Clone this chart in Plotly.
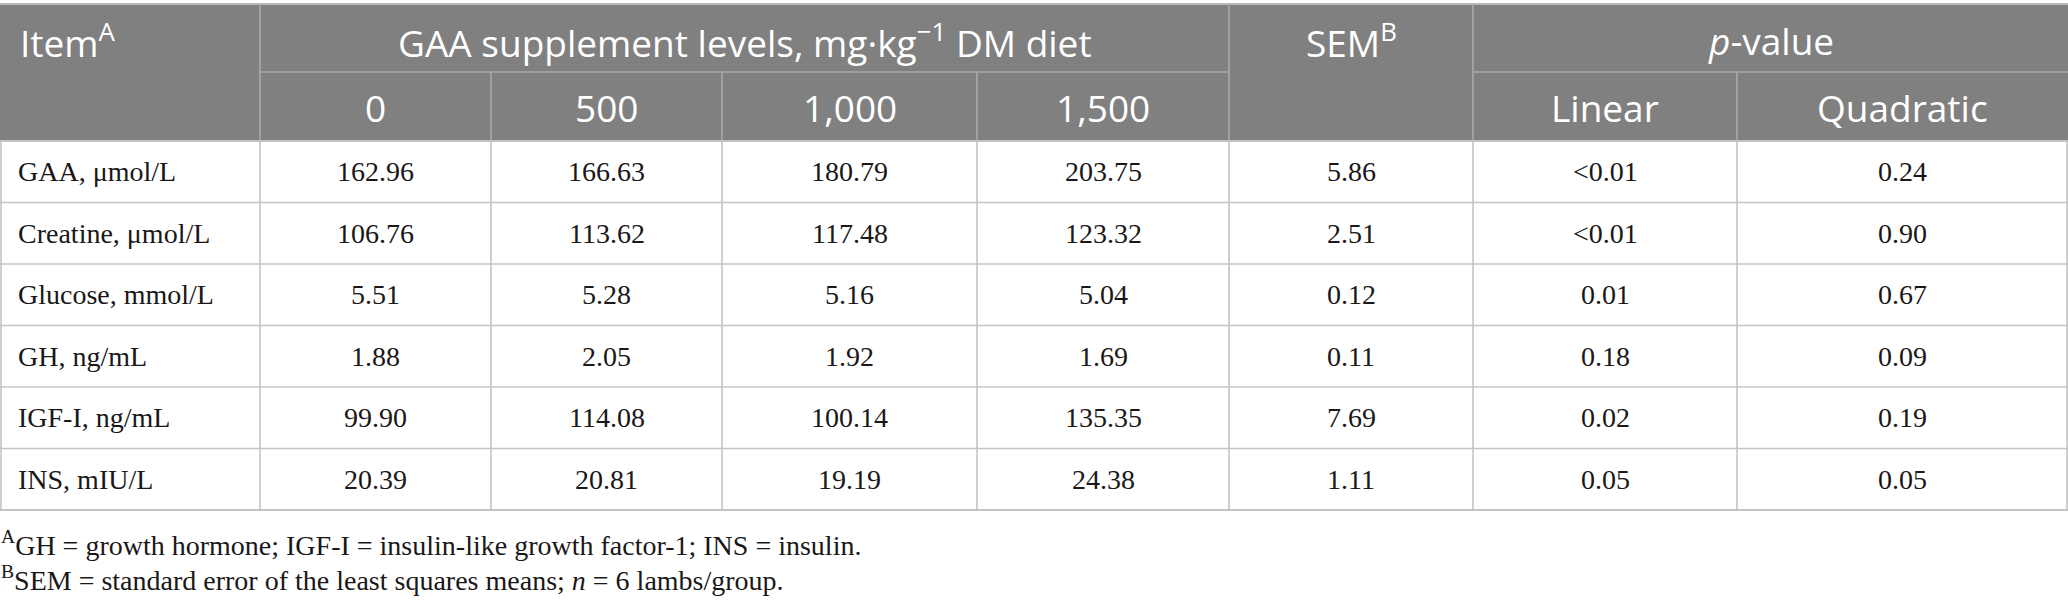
import plotly.graph_objects as go

# ---------------- data ----------------
items = ["GAA, μmol/L", "Creatine, μmol/L", "Glucose, mmol/L",
         "GH, ng/mL", "IGF-I, ng/mL", "INS, mIU/L"]
level_labels = ["0", "500", "1,000", "1,500"]
level_0 = [162.96, 106.76, 5.51, 1.88, 99.90, 20.39]
level_500 = [166.63, 113.62, 5.28, 2.05, 114.08, 20.81]
level_1000 = [180.79, 117.48, 5.16, 1.92, 100.14, 19.19]
level_1500 = [203.75, 123.32, 5.04, 1.69, 135.35, 24.38]
sem = [5.86, 2.51, 0.12, 0.11, 7.69, 1.11]
p_linear = ["<0.01", "<0.01", 0.01, 0.18, 0.02, 0.05]
p_quadratic = [0.24, 0.90, 0.67, 0.09, 0.19, 0.05]
p_labels = ["Linear", "Quadratic"]
footnotes = [
    "<sup>A</sup>GH = growth hormone; IGF-I = insulin-like growth factor-1; INS = insulin.",
    "<sup>B</sup>SEM = standard error of the least squares means; <i>n</i> = 6 lambs/group.",
]

# ---------------- layout constants ----------------
W, H = 2068, 600
X_EDGES = [0, 260, 491, 722, 977, 1229, 1473, 1737, 2068]
Y_TOP, Y_H1, Y_H2 = 4, 72, 141
ROW_H = (510 - 141) / 6
Y_ROWS = [Y_H2 + i * ROW_H for i in range(7)]
HEADER_FILL = "#808080"
HEADER_LINE = "#a9a9a9"
BODY_LINE = "#c4c4c4"
TEXT = "#1a1718"
SANS = "Open Sans"
SERIF = "Liberation Serif"
HFS = 37
BFS = 28


def fmt(v):
    return v if isinstance(v, str) else f"{v:.2f}"


def cx(i):
    return (X_EDGES[i] + X_EDGES[i + 1]) / 2


shapes = []
annotations = []


def line(x0, y0, x1, y1, color, width=1.6):
    shapes.append(dict(type="line", xref="x", yref="y", x0=x0, y0=y0, x1=x1, y1=y1,
                       line=dict(color=color, width=width), layer="above"))


# header background
shapes.append(dict(type="rect", xref="x", yref="y", x0=0, x1=W, y0=Y_TOP, y1=Y_H2,
                   fillcolor=HEADER_FILL, line=dict(width=0), layer="below"))
line(0, Y_TOP, W, Y_TOP, "#b8b8b8", 2)
# header dividers
line(X_EDGES[1], Y_H1, X_EDGES[5], Y_H1, HEADER_LINE)
line(X_EDGES[6], Y_H1, W, Y_H1, HEADER_LINE)
for i in (1, 5, 6):
    line(X_EDGES[i], Y_TOP, X_EDGES[i], Y_H2, HEADER_LINE)
for i in (2, 3, 4, 7):
    line(X_EDGES[i], Y_H1, X_EDGES[i], Y_H2, HEADER_LINE)

# body grid
for y in Y_ROWS:
    line(0, y, W, y, BODY_LINE, 2 if y in (Y_ROWS[0], Y_ROWS[-1]) else 1.6)
for i, x in enumerate(X_EDGES):
    xx = 1 if i == 0 else (W - 1 if i == len(X_EDGES) - 1 else x)
    line(xx, Y_ROWS[0], xx, Y_ROWS[-1], BODY_LINE)


def txt(x, y, s, font, size, color, xanchor="center", xshift=0):
    annotations.append(dict(x=x, y=y, xref="x", yref="y", text=s, showarrow=False,
                            xanchor=xanchor, yanchor="middle", xshift=xshift,
                            font=dict(family=font, size=size, color=color)))


yh1 = (Y_TOP + Y_H1) / 2 + 2
yh2 = (Y_H1 + Y_H2) / 2 + 1
txt(18, yh1, "Item<sup>A</sup>", SANS, HFS, "white", "left")
txt((X_EDGES[1] + X_EDGES[5]) / 2, yh1,
    "GAA supplement levels, mg·kg<sup>−1</sup> DM diet", SANS, HFS, "white")
txt(cx(5), yh1, "SEM<sup>B</sup>", SANS, HFS, "white")
txt((X_EDGES[6] + X_EDGES[8]) / 2, yh1, "<i>p</i>-value", SANS, HFS, "white")
for j, lab in enumerate(level_labels):
    txt(cx(1 + j), yh2, lab, SANS, HFS, "white")
for j, lab in enumerate(p_labels):
    txt(cx(6 + j), yh2, lab, SANS, HFS, "white")

cols = [level_0, level_500, level_1000, level_1500, sem, p_linear, p_quadratic]
for r, item in enumerate(items):
    yc = (Y_ROWS[r] + Y_ROWS[r + 1]) / 2
    txt(16, yc, item, SERIF, BFS, TEXT, "left")
    for c, col in enumerate(cols):
        txt(cx(1 + c), yc, fmt(col[r]), SERIF, BFS, TEXT)

txt(0, 543, footnotes[0], SERIF, BFS, TEXT, "left", xshift=-1)
txt(0, 578, footnotes[1], SERIF, BFS, TEXT, "left", xshift=-1)

fig = go.Figure()
fig.update_layout(
    width=W, height=H, margin=dict(l=0, r=0, t=0, b=0),
    paper_bgcolor="white", plot_bgcolor="white",
    xaxis=dict(range=[0, W], visible=False, fixedrange=True),
    yaxis=dict(range=[H, 0], visible=False, fixedrange=True),
    shapes=shapes, annotations=annotations, showlegend=False,
)
fig.write_html("out.html", config={"displayModeBar": False},
               post_script="document.body.style.margin='0';document.body.style.overflow='hidden';")
